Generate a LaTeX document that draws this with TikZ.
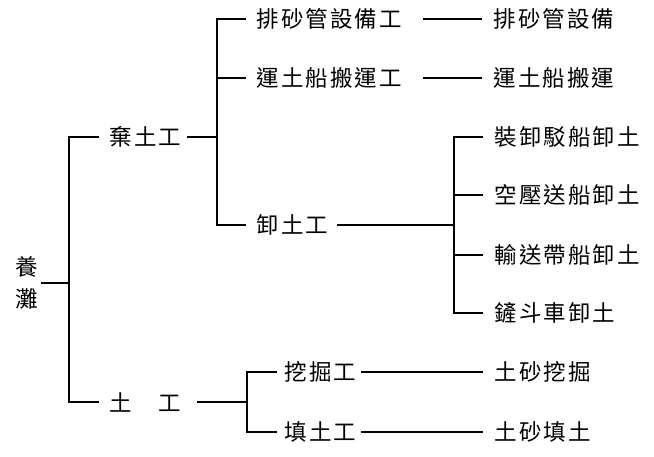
\documentclass[tikz,border=0pt]{standalone}
\usepackage{fontspec}
\newfontfamily\cjk[LetterSpace=9]{Noto Sans CJK TC}
\begin{document}
\begin{tikzpicture}[x=1pt,y=-1pt, line width=1.4pt,
  txt/.style={font=\cjk\fontsize{22.5}{32}\selectfont, inner sep=0pt, anchor=west}]
\useasboundingbox (0,0) rectangle (654,457);
\node[txt, anchor=center, align=center] (root) at (27,283) {養\\灘};
\node[txt] (qi) at (109,137) {棄土工};
\node[txt] (tu) at (109,402) {土　工};
\node[txt] (pa) at (256,19) {排砂管設備工};
\node[txt] (yun) at (256,78) {運土船搬運工};
\node[txt] (xie) at (256,225) {卸土工};
\node[txt] (pb) at (493,19) {排砂管設備};
\node[txt] (yb) at (493,78) {運土船搬運};
\node[txt] (x1) at (494,137) {裝卸駁船卸土};
\node[txt] (x2) at (494,195) {空壓送船卸土};
\node[txt] (x3) at (494,255) {輸送帶船卸土};
\node[txt] (x4) at (494,313) {鏟斗車卸土};
\node[txt] (wa) at (284,372) {挖掘工};
\node[txt] (tian) at (284,432) {填土工};
\node[txt] (wb) at (494,372) {土砂挖掘};
\node[txt] (tb) at (494,432) {土砂填土};
\coordinate (j0) at (69,283);
\coordinate (j1) at (217,137);
\coordinate (j2) at (247,402);
\coordinate (j3) at (454,225);
\draw ([xshift=2pt]root.east) -- (j0);
\draw ([xshift=-10pt]qi.west) -| (j0) |- ([xshift=-10pt]tu.west);
\draw ([xshift=5pt]qi.east) -- (j1);
\draw ([xshift=-10pt]pa.west) -| (j1) |- ([xshift=-10pt]xie.west);
\draw (yun.west -| j1) -- ([xshift=-10pt]yun.west);
\draw ([xshift=20pt]pa.east) -- ([xshift=-11pt]pb.west);
\draw ([xshift=20pt]yun.east) -- ([xshift=-11pt]yb.west);
\draw ([xshift=8pt]xie.east) -- (j3);
\draw ([xshift=-11pt]x1.west) -| (j3) |- ([xshift=-11pt]x4.west);
\draw (x2.west -| j3) -- ([xshift=-11pt]x2.west);
\draw (x3.west -| j3) -- ([xshift=-11pt]x3.west);
\draw ([xshift=15pt]tu.east) -- (j2);
\draw ([xshift=-7pt]wa.west) -| (j2) |- ([xshift=-7pt]tian.west);
\draw ([xshift=4pt]wa.east) -- ([xshift=-11pt]wb.west);
\draw ([xshift=4pt]tian.east) -- ([xshift=-11pt]tb.west);
\end{tikzpicture}
\end{document}
